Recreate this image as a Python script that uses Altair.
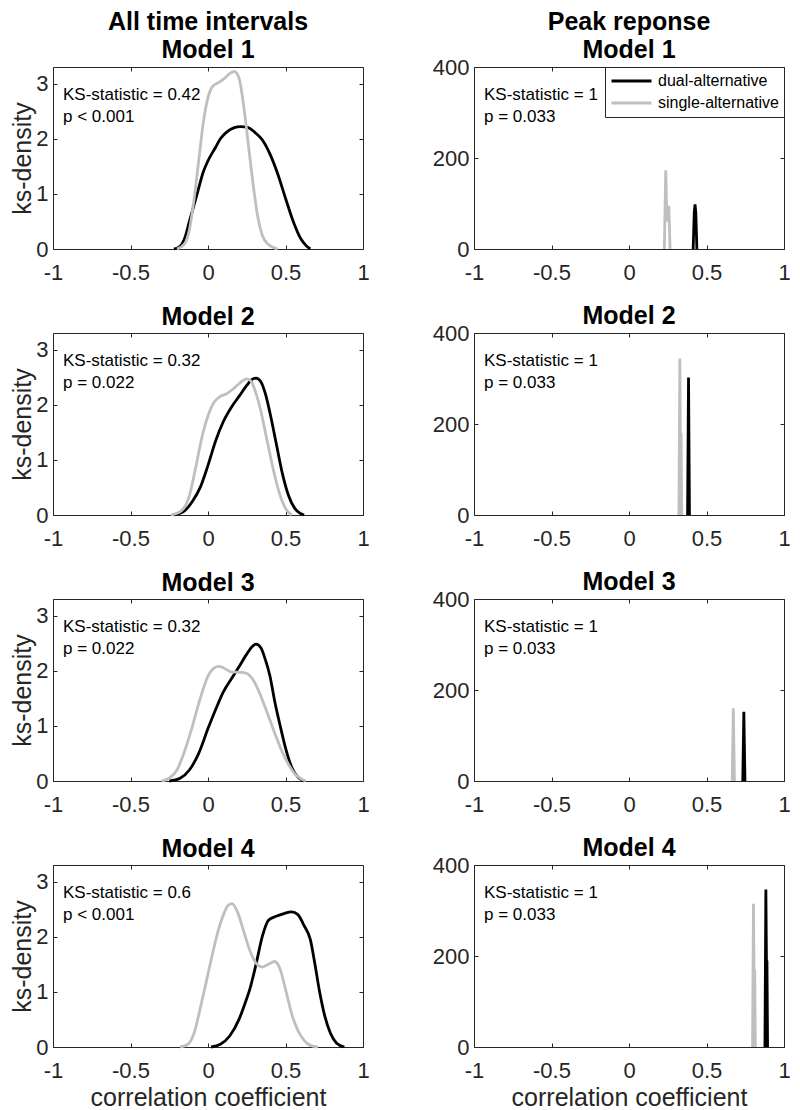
import altair as alt
import pandas as pd

FONT = "Liberation Sans"
BLACK = "#000000"
GRAY = "#bfbfbf"
AXIS_COLOR = "#262626"

series_names = ["dual-alternative", "single-alternative"]
column_titles = ["All time intervals", "Peak reponse"]
model_titles = ["Model 1", "Model 2", "Model 3", "Model 4"]
x_ticks = [-1, -0.5, 0, 0.5, 1]
all_y_ticks = [0, 1, 2, 3]
peak_y_ticks = [0, 200, 400]

# KS statistics text
ks_all = ["0.42", "0.32", "0.32", "0.6"]
p_all = ["< 0.001", "= 0.022", "= 0.022", "< 0.001"]
ks_peak = ["1", "1", "1", "1"]
p_peak = ["= 0.033", "= 0.033", "= 0.033", "= 0.033"]

# ---- All time intervals: ks-density curves ----
all_m1_dual_x = [-0.22, -0.18, -0.15, -0.12, -0.07, -0.03, 0.0, 0.05, 0.08, 0.12, 0.17, 0.21, 0.26, 0.3, 0.35, 0.4, 0.45, 0.5, 0.55, 0.6, 0.63, 0.66]
all_m1_dual_y = [0, 0.05, 0.2, 0.5, 1.0, 1.4, 1.6, 1.85, 2.0, 2.12, 2.2, 2.22, 2.2, 2.12, 1.98, 1.72, 1.36, 0.92, 0.5, 0.18, 0.07, 0]
all_m1_single_x = [-0.2, -0.15, -0.12, -0.09, -0.06, -0.03, 0.0, 0.03, 0.07, 0.1, 0.14, 0.17, 0.2, 0.23, 0.26, 0.29, 0.32, 0.35, 0.39, 0.45]
all_m1_single_y = [0, 0.1, 0.35, 0.9, 1.6, 2.3, 2.75, 2.95, 3.02, 3.08, 3.18, 3.22, 3.1, 2.6, 1.9, 1.2, 0.6, 0.25, 0.08, 0]

all_m2_dual_x = [-0.22, -0.15, -0.1, -0.05, 0.0, 0.05, 0.1, 0.15, 0.2, 0.25, 0.28, 0.31, 0.34, 0.37, 0.4, 0.44, 0.48, 0.52, 0.56, 0.59, 0.62]
all_m2_dual_y = [0, 0.08, 0.25, 0.5, 0.9, 1.35, 1.7, 1.95, 2.15, 2.35, 2.45, 2.48, 2.42, 2.2, 1.85, 1.3, 0.75, 0.35, 0.12, 0.04, 0]
all_m2_single_x = [-0.24, -0.17, -0.12, -0.08, -0.04, 0.0, 0.04, 0.08, 0.12, 0.16, 0.2, 0.25, 0.28, 0.31, 0.34, 0.37, 0.4, 0.43, 0.46, 0.5, 0.54]
all_m2_single_y = [0, 0.08, 0.35, 0.85, 1.4, 1.8, 2.05, 2.15, 2.2, 2.28, 2.38, 2.47, 2.42, 2.2, 1.9, 1.5, 1.1, 0.72, 0.4, 0.12, 0]

all_m3_dual_x = [-0.25, -0.18, -0.12, -0.06, 0.0, 0.05, 0.1, 0.15, 0.2, 0.25, 0.29, 0.31, 0.34, 0.37, 0.4, 0.43, 0.47, 0.5, 0.54, 0.58, 0.62]
all_m3_dual_y = [0, 0.05, 0.2, 0.5, 0.95, 1.3, 1.62, 1.85, 2.07, 2.3, 2.45, 2.48, 2.42, 2.2, 1.9, 1.45, 0.95, 0.6, 0.25, 0.07, 0]
all_m3_single_x = [-0.3, -0.25, -0.2, -0.15, -0.1, -0.05, 0.0, 0.04, 0.07, 0.1, 0.15, 0.2, 0.24, 0.28, 0.32, 0.36, 0.4, 0.44, 0.48, 0.52, 0.56, 0.6, 0.63]
all_m3_single_y = [0, 0.05, 0.2, 0.55, 1.0, 1.5, 1.9, 2.05, 2.08, 2.05, 1.98, 1.97, 1.96, 1.88, 1.68, 1.4, 1.1, 0.8, 0.52, 0.3, 0.13, 0.04, 0]

all_m4_dual_x = [0.02, 0.08, 0.14, 0.2, 0.24, 0.27, 0.31, 0.35, 0.39, 0.44, 0.49, 0.54, 0.58, 0.62, 0.66, 0.69, 0.72, 0.75, 0.79, 0.83, 0.88]
all_m4_dual_y = [0, 0.05, 0.2, 0.5, 0.8, 1.05, 1.5, 2.0, 2.3, 2.37, 2.42, 2.45, 2.4, 2.2, 1.95, 1.5, 1.0, 0.6, 0.25, 0.07, 0]
all_m4_single_x = [-0.18, -0.13, -0.09, -0.05, -0.01, 0.03, 0.06, 0.1, 0.13, 0.155, 0.19, 0.23, 0.27, 0.31, 0.35, 0.39, 0.43, 0.46, 0.5, 0.54, 0.58, 0.62, 0.66, 0.71]
all_m4_single_y = [0, 0.05, 0.25, 0.7, 1.2, 1.7, 2.05, 2.4, 2.57, 2.6, 2.45, 2.1, 1.75, 1.52, 1.45, 1.5, 1.55, 1.45, 1.05, 0.6, 0.3, 0.12, 0.03, 0]

# ---- Peak response: ks-density spikes ----
peak_m1_dual_x = [0.414, 0.421, 0.426, 0.431, 0.438]
peak_m1_dual_y = [0, 80, 98, 80, 0]
peak_m1_single_x = [0.228, 0.237, 0.245, 0.257, 0.265]
peak_m1_single_y = [0, 173, 60, 95, 0]

peak_m2_dual_x = [0.378, 0.384, 0.39]
peak_m2_dual_y = [0, 302, 0]
peak_m2_single_x = [0.322, 0.328, 0.332, 0.336, 0.34]
peak_m2_single_y = [0, 344, 150, 180, 0]

peak_m3_dual_x = [0.734, 0.741, 0.748]
peak_m3_dual_y = [0, 152, 0]
peak_m3_single_x = [0.666, 0.673, 0.68]
peak_m3_single_y = [0, 160, 0]

peak_m4_dual_x = [0.877, 0.883, 0.887, 0.89, 0.894]
peak_m4_dual_y = [0, 346, 180, 190, 0]
peak_m4_single_x = [0.797, 0.803, 0.807, 0.811, 0.815]
peak_m4_single_y = [0, 315, 150, 170, 0]

all_curves = [
    ((all_m1_dual_x, all_m1_dual_y), (all_m1_single_x, all_m1_single_y)),
    ((all_m2_dual_x, all_m2_dual_y), (all_m2_single_x, all_m2_single_y)),
    ((all_m3_dual_x, all_m3_dual_y), (all_m3_single_x, all_m3_single_y)),
    ((all_m4_dual_x, all_m4_dual_y), (all_m4_single_x, all_m4_single_y)),
]
peak_curves = [
    ((peak_m1_dual_x, peak_m1_dual_y), (peak_m1_single_x, peak_m1_single_y)),
    ((peak_m2_dual_x, peak_m2_dual_y), (peak_m2_single_x, peak_m2_single_y)),
    ((peak_m3_dual_x, peak_m3_dual_y), (peak_m3_single_x, peak_m3_single_y)),
    ((peak_m4_dual_x, peak_m4_dual_y), (peak_m4_single_x, peak_m4_single_y)),
]


def make_df(pair):
    rows = []
    for name, (xs, ys) in zip(series_names, pair):
        for i, (a, b) in enumerate(zip(xs, ys)):
            rows.append({"x": a, "y": b, "series": name, "i": i})
    return pd.DataFrame(rows)


W, H = 310, 182
TICK = 4


def panel(df, ymax, yticks, title, ann, show_legend, ytitle, xtitle, interp, title_dy):
    xscale = alt.Scale(domain=[-1, 1], nice=False, zero=False)
    yscale = alt.Scale(domain=[0, ymax], nice=False, zero=True)
    xaxis = alt.Axis(values=x_ticks, labelExpr="'' + datum.value", offset=-TICK, tickSize=TICK,
                     domain=False, grid=False, labelPadding=13, title=xtitle, titlePadding=4,
                     labelFlush=False, labelOverlap=False)
    yaxis = alt.Axis(values=yticks, offset=-TICK, tickSize=TICK, domain=False, grid=False,
                     labelPadding=5, title=ytitle, titlePadding=0, labelFlush=False)
    if show_legend:
        legend = alt.Legend(orient="top-right", title=None, offset=0, padding=5,
                            labelFontSize=16, labelFont=FONT, labelColor="black",
                            symbolType="stroke", symbolSize=1600, symbolStrokeWidth=3,
                            strokeColor=AXIS_COLOR, fillColor="white", labelOffset=5,
                            rowPadding=4, clipHeight=18, cornerRadius=0)
    else:
        legend = None
    color = alt.Color("series:N", scale=alt.Scale(domain=series_names, range=[BLACK, GRAY]),
                      legend=legend)
    lines = alt.Chart(df).mark_line(strokeWidth=2.8, interpolate=interp).encode(
        x=alt.X("x:Q", scale=xscale, axis=xaxis),
        y=alt.Y("y:Q", scale=yscale, axis=yaxis),
        color=color,
        order=alt.Order("i:Q"),
    )
    mirror = alt.Chart(df).mark_point(opacity=0).encode(
        x=alt.X("x:Q", scale=xscale, axis=alt.Axis(orient="top", values=x_ticks, labels=False,
                                                   offset=-TICK, tickSize=TICK, domain=False,
                                                   grid=False, title=None)),
        y=alt.Y("y:Q", scale=yscale, axis=alt.Axis(orient="right", values=yticks, labels=False,
                                                   offset=-TICK, tickSize=TICK, domain=False,
                                                   grid=False, title=None)),
    )
    text = alt.Chart(pd.DataFrame({"t": [ann]})).mark_text(
        align="left", baseline="top", fontSize=17, font=FONT, lineBreak="\n",
        lineHeight=22, color="black"
    ).encode(x=alt.value(10), y=alt.value(20), text="t:N")
    return alt.layer(lines, mirror, text).resolve_axis(x="independent", y="independent").properties(
        width=W, height=H,
        title=alt.TitleParams(text=title, fontSize=25, fontWeight="bold", font=FONT,
                              color="black", offset=3, lineHeight=28, anchor="middle",
                              dy=title_dy),
    )


rows = []
for k in range(4):
    if k == 0:
        t_left = [column_titles[0], model_titles[0]]
        t_right = [column_titles[1], model_titles[0]]
    else:
        t_left = model_titles[k]
        t_right = model_titles[k]
    xtitle = "correlation coefficient" if k == 3 else None
    left = panel(make_df(all_curves[k]), 3.3, all_y_ticks, t_left,
                 f"KS-statistic = {ks_all[k]}\np {p_all[k]}", False, "ks-density", xtitle,
                 "monotone", 0)
    right = panel(make_df(peak_curves[k]), 400, peak_y_ticks, t_right,
                  f"KS-statistic = {ks_peak[k]}\np {p_peak[k]}", k == 0, None, xtitle,
                  "linear", 10)
    row = alt.hconcat(left, right, spacing=61).resolve_legend(color="independent").resolve_scale(color="independent")
    rows.append(row)

chart = alt.vconcat(*rows, spacing=19).resolve_legend(color="independent").resolve_scale(
    color="independent"
).properties(padding={"top": 1, "left": 2, "right": 0, "bottom": 0}).configure_axis(
    labelFont=FONT, titleFont=FONT, labelFontSize=22, titleFontSize=25, titleFontWeight="normal",
    labelColor=AXIS_COLOR, titleColor=AXIS_COLOR, tickColor=AXIS_COLOR,
).configure_view(stroke=AXIS_COLOR, strokeWidth=1).configure_title(font=FONT)

chart.save("out.html", embed_options={"renderer": "svg", "actions": False})
